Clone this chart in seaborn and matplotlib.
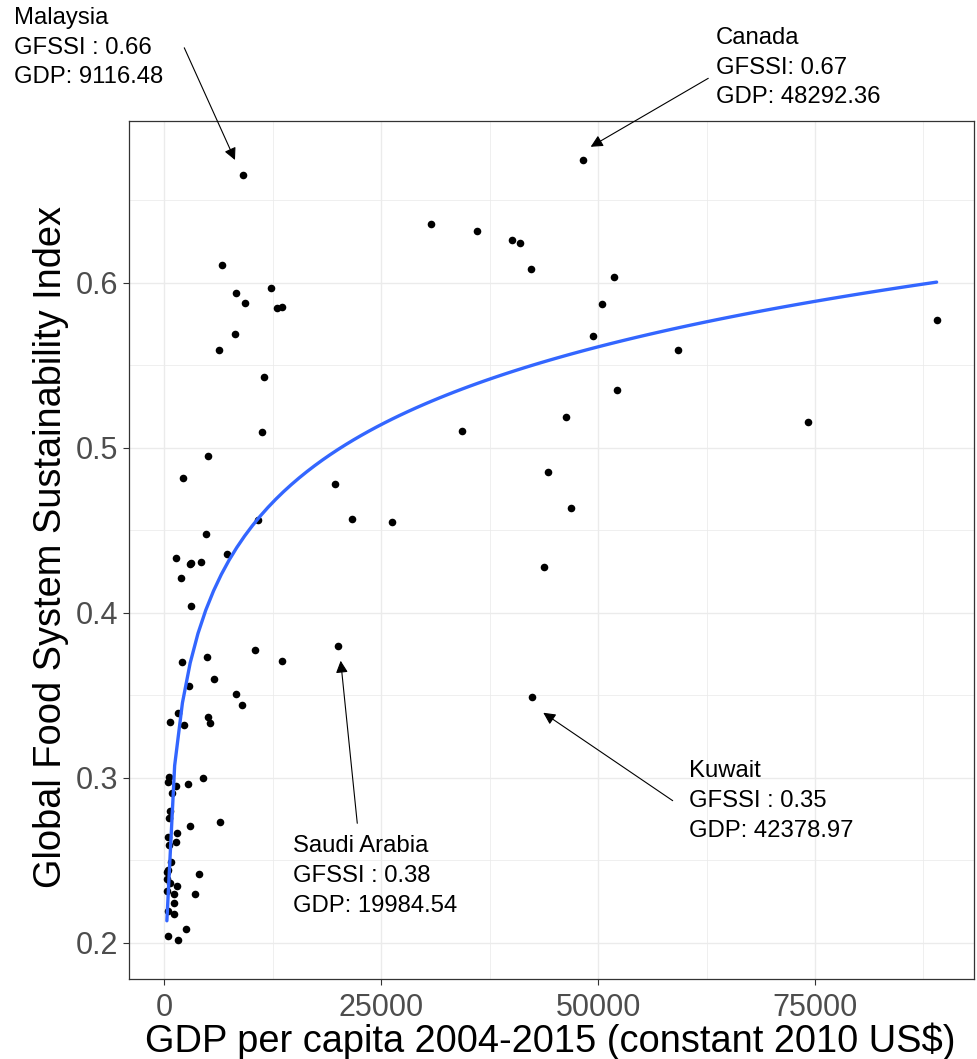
import numpy as np
import pandas as pd
import matplotlib
matplotlib.use("Agg")
import matplotlib.pyplot as plt
from matplotlib.ticker import MultipleLocator
import seaborn as sns

# ---------------- data ----------------
gdp = [
    9116.48, 6685, 8264, 12253, 9257, 12990, 13565, 8106, 6300, 11450,
    11260, 4995, 2150, 10800, 4780, 7200, 1320, 2925, 3100, 4210,
    1960, 3080, 10450, 13600, 2000, 4900, 5765, 2820, 8260, 8990,
    1580, 715, 2230, 5070, 5300, 19984.54,
    540, 390, 1320, 2760, 4480, 845, 670, 520, 3010, 6450,
    1420, 480, 1360, 570, 770, 380, 3960, 300, 680, 1440,
    310, 1150, 3575, 1150, 380, 1075, 2485, 385, 1560, 330,
    48292.36, 30740, 36000, 40030, 41030, 42300, 51830, 50450, 49450, 59210,
    89020, 52220, 46330, 74150, 34310, 44180, 19630, 46900, 21590, 26280,
    43720, 42378.97,
]
gfssi = [
    0.665, 0.6105, 0.594, 0.5968, 0.5875, 0.5847, 0.5855, 0.5689, 0.559, 0.543,
    0.5093, 0.4952, 0.4818, 0.4562, 0.4475, 0.4357, 0.4331, 0.4293, 0.4300, 0.4308,
    0.4213, 0.4041, 0.3777, 0.3707, 0.3700, 0.3733, 0.3600, 0.3557, 0.3506, 0.3443,
    0.3393, 0.3336, 0.3320, 0.3369, 0.3333, 0.3797,
    0.3006, 0.2972, 0.2953, 0.2960, 0.2996, 0.2910, 0.2798, 0.2756, 0.2708, 0.2729,
    0.2668, 0.2641, 0.2610, 0.2592, 0.2489, 0.2441, 0.2415, 0.2388, 0.2365, 0.2342,
    0.2316, 0.2294, 0.2296, 0.2239, 0.2192, 0.2172, 0.2083, 0.2041, 0.2015, 0.2430,
    0.6744, 0.6358, 0.6313, 0.6258, 0.6242, 0.6085, 0.6036, 0.5873, 0.5679, 0.5592,
    0.5774, 0.5352, 0.5188, 0.5156, 0.5101, 0.4851, 0.4778, 0.4635, 0.4566, 0.4548,
    0.4279, 0.349,
]

x_ticks = [0, 25000, 50000, 75000]
x_tick_labels = ["0", "25000", "50000", "75000"]
y_ticks = [0.2, 0.3, 0.4, 0.5, 0.6]
y_tick_labels = ["0.2", "0.3", "0.4", "0.5", "0.6"]

x_title = "GDP per capita 2004-2015 (constant 2010 US$)"
y_title = "Global Food System Sustainability Index"

# annotations: label, text anchor (left, last-line baseline), arrow start, arrow tip
ann_labels = [
    "Malaysia\nGFSSI : 0.66\nGDP: 9116.48",
    "Canada\nGFSSI: 0.67\nGDP: 48292.36",
    "Saudi Arabia\nGFSSI : 0.38\nGDP: 19984.54",
    "Kuwait\nGFSSI : 0.35\nGDP: 42378.97",
]
ann_text_x = [-17340, 63585, 14800, 60510]
ann_text_y = [0.7208, 0.7087, 0.2188, 0.2642]
arrow_start_x = [2305, 62700, 22245, 58600]
arrow_start_y = [0.7424, 0.7239, 0.2724, 0.2861]
arrow_tip_x = [8149, 49147, 20332, 43684]
arrow_tip_y = [0.6744, 0.6824, 0.3709, 0.3394]

df = pd.DataFrame({"gdp": gdp, "gfssi": gfssi})

# ---------------- styling ----------------
sns.set_style("white")
plt.rcParams["font.family"] = ["Liberation Sans", "DejaVu Sans"]

fig = plt.figure(figsize=(9.77, 10.59), dpi=100)
ax = fig.add_axes([0.1320, 0.0755, 0.9969 - 0.1320, 0.8857 - 0.0755])

sns.scatterplot(data=df, x="gdp", y="gfssi", color="black", s=30,
                linewidth=0, ax=ax, zorder=3)
sns.regplot(data=df, x="gdp", y="gfssi", logx=True, scatter=False, ci=None,
            line_kws=dict(color="#3366FF", lw=2.4, zorder=4), ax=ax)

ax.set_xlim(-4069, 93325)
ax.set_ylim(0.178, 0.698)

ax.set_xticks(x_ticks, x_tick_labels)
ax.set_yticks(y_ticks, y_tick_labels)
ax.xaxis.set_minor_locator(MultipleLocator(12500))
ax.yaxis.set_minor_locator(MultipleLocator(0.05))
ax.grid(which="major", color="#EBEBEB", lw=1.0, zorder=0)
ax.grid(which="minor", color="#EBEBEB", lw=0.55, zorder=0)
ax.set_axisbelow(True)

ax.tick_params(axis="both", which="major", labelsize=22, labelcolor="#4D4D4D",
               color="#333333", length=4, width=0.8, direction="out",
               bottom=True, left=True)
ax.tick_params(axis="x", which="major", pad=6)
ax.tick_params(axis="y", which="major", pad=3.8)
ax.tick_params(which="minor", length=0)

for sp in ax.spines.values():
    sp.set_color("#333333")
    sp.set_linewidth(0.9)
    sp.set_visible(True)

ax.set_xlabel(x_title, fontsize=27.4, color="black")
ax.set_ylabel(y_title, fontsize=27.4, color="black")
ax.xaxis.label.set_va("baseline")
ax.yaxis.label.set_va("baseline")
ax.xaxis.set_label_coords(0.4983, -0.0851)
ax.yaxis.set_label_coords(-0.0805, 0.503)

for lab, tx, ty, sx, sy, hx, hy in zip(ann_labels, ann_text_x, ann_text_y,
                                       arrow_start_x, arrow_start_y,
                                       arrow_tip_x, arrow_tip_y):
    ax.text(tx, ty, lab, fontsize=17.2, color="black", ha="left",
            va="baseline", linespacing=1.46, clip_on=False)
    ax.annotate("", xy=(hx, hy), xytext=(sx, sy), xycoords="data",
                textcoords="data", annotation_clip=False,
                arrowprops=dict(arrowstyle="-|>", color="black", lw=0.8,
                                mutation_scale=18, shrinkA=0, shrinkB=0))

fig.savefig("out.png", dpi=100, facecolor="white")
